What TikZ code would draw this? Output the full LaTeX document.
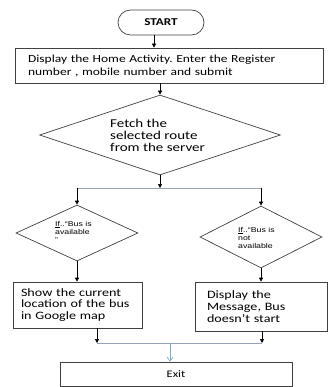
\documentclass[tikz,border=0pt]{standalone}
\usepackage{fontspec}
\setmainfont[FakeStretch=1.25]{Carlito}
\newfontfamily\smallsans[FakeStretch=1.25]{Liberation Sans}
\usetikzlibrary{shapes.geometric,arrows.meta}
\definecolor{linegray}{RGB}{150,165,182}
\definecolor{exitblue}{RGB}{125,172,210}
\frenchspacing

\begin{document}
\begin{tikzpicture}[x=1pt,y=-1pt,
    box/.style={draw=black!75,line width=0.7pt,rectangle,align=left,font=\fontsize{11.3}{11.7}\selectfont},
    dia/.style={draw=black!75,line width=0.7pt,diamond,inner sep=0pt,aspect=2},
    ask/.style={align=left,inner sep=0pt,font=\smallsans\fontsize{7}{8.3}\selectfont},
    arr/.style={line width=0.7pt,-{Triangle[length=4pt,width=4pt]}},
    exitarr/.style={exitblue,line width=0.7pt,-{Straight Barb[length=4pt,width=6pt]}}]
        \useasboundingbox (0,0) rectangle (329,387);

        % Start and input
        \node[box,rounded corners=12.5pt,minimum width=86pt,minimum height=25pt,align=center,
              font=\fontsize{10.5}{13}\selectfont\bfseries] (start) at (161,22.5) {START};
        \node[box,text width=282pt,inner xsep=13pt,minimum height=35pt,
              font=\fontsize{10.8}{13}\selectfont] (disp) at (169,65.5)
              {Display the Home Activity. Enter the Register\\number , mobile number  and submit};

        % Fetch decision
        \node[dia,minimum width=241pt,minimum height=80pt] (fetch) at (160,135) {};
        \node[align=left,inner sep=0pt,anchor=west,font=\fontsize{12}{12}\selectfont] (fetchtxt) at (110,135)
              {Fetch the\\selected route\\from the server};

        % Bus available or not
        \node[dia,minimum width=122pt,minimum height=56pt] (ifyes) at (77,233) {};
        \node[ask,anchor=west] (yestxt) at (55,232) {\underline{If}..“Bus is\\available\\”};
        \node[dia,minimum width=122pt,minimum height=62pt] (ifno) at (261,237) {};
        \node[ask,anchor=west] (notxt) at (238,238) {\underline{If}..“Bus is\\not\\available};

        % Results
        \node[box,text width=113pt,inner xsep=8pt,minimum height=46pt] (show) at (77.5,305)
              {Show the current\\location of the bus\\in Google map};
        \node[box,text width=108pt,inner xsep=12pt,minimum height=49pt] (msg) at (261,306.5)
              {Display the\\Message, Bus\\doesn’t start};
        \node[box,align=center,minimum width=232pt,minimum height=24pt,
              font=\fontsize{10}{12}\selectfont] (exit) at (176,374) {Exit};

        \coordinate (split) at (160,188);  % below fetch
        \coordinate (splitl) at (77,188);  % to available
        \coordinate (splitr) at (261,188); % to not available
        \coordinate (joinl) at (97,343);   % below show
        \coordinate (joinr) at (262,343);  % below message
        \coordinate (join) at (170,343);   % to exit

        % Connectors
        \draw[arr] ([xshift=-7pt]start.south) -- ([xshift=-7pt]start.south |- disp.north);
        \draw[arr] (disp.south -| fetch.north) -- (fetch.north);
        \draw[arr] (fetch.south) -- (split);
        \draw[linegray,line width=0.6pt] (splitl) -- (splitr);
        \draw[arr] (splitl) -- (ifyes.north);
        \draw[arr] (splitr) -- (ifno.north);
        \draw[arr] (ifyes.south) -- (ifyes.south |- show.north);
        \draw[arr] (ifno.south) -- (ifno.south |- msg.north);
        \draw[arr] (show.south -| joinl) -- (joinl);
        \draw[arr] (msg.south -| joinr) -- (joinr);
        \draw[linegray,line width=0.6pt] (joinl) -- (joinr);
        \draw[exitarr] (join) -- (join |- exit.north);
    \end{tikzpicture}
\end{document}
